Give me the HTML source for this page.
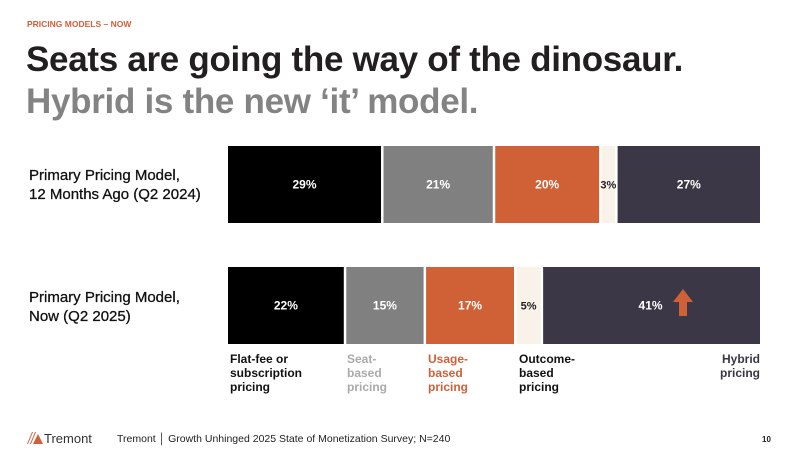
<!DOCTYPE html>
<html><head><meta charset="utf-8"><style>
body{margin:0;width:798px;height:454px;background:#fff;font-family:"Liberation Sans",sans-serif;position:relative;overflow:hidden}
.abs{position:absolute}
</style></head><body>
<div class="abs" style="left:27px;top:19px;font-size:8.5px;font-weight:bold;color:#d0603a">PRICING MODELS – NOW</div>
<div class="abs" style="left:26px;top:41px;font-size:35px;font-weight:bold;color:#231f20;letter-spacing:-0.3px;line-height:38px">Seats are going the way of the dinosaur.</div>
<div class="abs" style="left:26px;top:83px;font-size:35px;font-weight:bold;color:#838383;letter-spacing:-0.3px;line-height:38px">Hybrid is the new ‘it’ model.</div>
<div class="abs" style="left:29px;top:166px;font-size:15px;color:#111;line-height:19px;-webkit-text-stroke:0.3px #111">Primary Pricing Model,<br>12 Months Ago (Q2 2024)</div>
<div class="abs" style="left:29px;top:288px;font-size:15px;color:#111;line-height:19px;-webkit-text-stroke:0.3px #111">Primary Pricing Model,<br>Now (Q2 2025)</div>
<svg class="abs" style="left:0;top:0" width="798" height="454" id="chart"></svg>
<div class="abs" style="left:230px;top:352px;font-size:12px;font-weight:bold;color:#111;line-height:14px">Flat-fee or<br>subscription<br>pricing</div>
<div class="abs" style="left:347px;top:352px;font-size:12px;font-weight:bold;color:#aaa;line-height:14px">Seat-<br>based<br>pricing</div>
<div class="abs" style="left:428px;top:352px;font-size:12px;font-weight:bold;color:#d0603a;line-height:14px">Usage-<br>based<br>pricing</div>
<div class="abs" style="left:519px;top:352px;font-size:12px;font-weight:bold;color:#111;line-height:14px">Outcome-<br>based<br>pricing</div>
<div class="abs" style="right:38px;top:352px;font-size:12px;font-weight:bold;color:#3a3645;line-height:14px;text-align:right">Hybrid<br>pricing</div>
<svg class="abs" style="left:27px;top:432px" width="16" height="12"><polygon points="0,12 5,0 6,0 1,12" fill="#d0603a"/><polygon points="3,12 8,0 9,0 4,12" fill="#d0603a"/><polygon points="6,12 11,2 16,12" fill="#d0603a"/></svg>
<div class="abs" style="left:44px;top:431px;font-size:13px;color:#333">Tremont</div>
<div class="abs" style="left:117px;top:433px;font-size:10.5px;color:#222">Tremont │ Growth Unhinged 2025 State of Monetization Survey; N=240</div>
<div class="abs" style="left:762px;top:435px;font-size:8px;font-weight:bold;color:#222">10</div>
<script>
const categories=["Flat-fee","Seat","Usage","Outcome","Hybrid"];
const rows=["Q2 2024","Q2 2025"];
const values2024=[29,21,20,3,27];
const values2025=[22,15,17,5,41];
const colors=["#000","#808080","#d06036","#f8f2e8","#3b3746"];
const textColors=["#fff","#fff","#fff","#222","#fff"];
const svg=document.getElementById('chart');
const NS="http://www.w3.org/2000/svg";
const x0=228,x1=760,gap=2.5;
function xScale(v){return x0+(x1-x0)*v/100;}
const rowY=[146,267],rowH=77;
[values2024,values2025].forEach((vals,ri)=>{
  let cum=0;
  vals.forEach((v,i)=>{
    const xa=xScale(cum)+(i?gap/2:0), xb=xScale(cum+v)-(i<vals.length-1?gap/2:0);
    const r=document.createElementNS(NS,'rect');
    r.setAttribute('x',xa);r.setAttribute('y',rowY[ri]);r.setAttribute('width',xb-xa);r.setAttribute('height',rowH);r.setAttribute('fill',colors[i]);
    
    
    svg.appendChild(r);
    const t=document.createElementNS(NS,'text');
    const cx=i===4&&ri===1?(xa+xb)/2-1:(xa+xb)/2;
    t.setAttribute('x',cx);t.setAttribute('y',rowY[ri]+rowH/2+4);t.setAttribute('text-anchor','middle');
    t.setAttribute('font-size',v<8?'11':'12');t.setAttribute('font-weight','bold');t.setAttribute('fill',textColors[i]);
    t.setAttribute('font-family','Liberation Sans, sans-serif');
    t.textContent=v+'%';
    
    
    svg.appendChild(t);
    cum+=v;
  });
});
const a=document.createElementNS(NS,'polygon');
a.setAttribute('points','673,302 683,289 693,302 687,302 687,316 679,316 679,302');
a.setAttribute('fill','#d06036');


svg.appendChild(a);
</script>
</body></html>
